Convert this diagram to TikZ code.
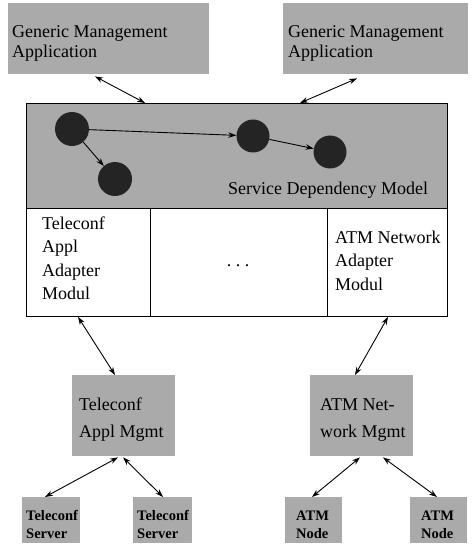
\documentclass[tikz,border=0pt]{standalone}
\usepackage{fontspec}
\setmainfont{Liberation Serif}
\usetikzlibrary{arrows.meta}
\definecolor{boxgray}{RGB}{170,170,170}
\definecolor{dotdark}{RGB}{36,36,36}
\begin{document}
\begin{tikzpicture}[x=1pt,y=-1pt,
  graybox/.style={fill=boxgray, draw=none, inner sep=0pt, anchor=north west},
  lbl/.style={anchor=base west, align=left, inner sep=0pt, font=\fontsize{18}{20}\selectfont},
  smalllbl/.style={anchor=base west, align=left, inner sep=0pt, font=\fontsize{14.5}{18}\selectfont\bfseries},
  link/.style={{Stealth[length=8pt,width=5.5pt]}-{Stealth[length=8pt,width=5.5pt]}, line width=0.9pt},
  deplink/.style={-{Stealth[length=8pt,width=5.5pt]}, line width=0.9pt},
  dot/.style={circle, fill=dotdark, inner sep=0pt}]
\useasboundingbox (0,0) rectangle (475,545);

% top application boxes (text anchors are at the baseline of the last line)
\node[graybox, minimum width=201pt, minimum height=71pt] (gma1) at (8,3) {};
\node[graybox, minimum width=185pt, minimum height=71pt] (gma2) at (283,3) {};
\node[lbl] (gma1t) at (12,58) {Generic Management\\Application};
\node[lbl] (gma2t) at (288,58) {Generic Management\\Application};

% service dependency model
\node[graybox, draw=black, line width=0.9pt, minimum width=421pt, minimum height=105pt] (sdm) at (26,103) {};
\node[anchor=north west, draw=black, fill=white, line width=0.9pt, inner sep=0pt, minimum width=421pt, minimum height=108pt] (adp) at (26,208) {};
\draw[line width=0.9pt] ([xshift=124pt]adp.north west) -- ([xshift=124pt]adp.south west);
\draw[line width=0.9pt] ([xshift=301pt]adp.north west) -- ([xshift=301pt]adp.south west);

\node[dot, minimum size=34pt] (n1) at (72,129) {};
\node[dot, minimum size=34pt] (n2) at (115,179) {};
\node[dot, minimum size=33pt] (n3) at (253,136) {};
\node[dot, minimum size=33pt] (n4) at (330,152) {};
\draw[deplink] (n1) -- (n3);
\draw[deplink] (n1) -- (n2);
\draw[deplink] (n3) -- (n4);
\node[lbl] (sdmt) at (228,195) {Service Dependency Model};

\node[lbl, font=\fontsize{18}{23.5}\selectfont] (tcat) at (42,299.5) {Teleconf\\Appl\\Adapter\\Modul};
\node[anchor=base, inner sep=0pt, font=\fontsize{18}{21}\selectfont] (dots) at (238,266) {.\ .\ .};
\node[lbl, font=\fontsize{18}{23.5}\selectfont] (atmat) at (335,290) {ATM Network\\Adapter\\Modul};

% management boxes
\node[graybox, minimum width=103pt, minimum height=81pt] (tm) at (72,375) {};
\node[graybox, minimum width=103pt, minimum height=81pt] (am) at (310,375) {};
\node[lbl, font=\fontsize{18}{27}\selectfont] (tmt) at (79,437) {Teleconf\\Appl Mgmt};
\node[lbl, font=\fontsize{18}{27}\selectfont] (amt) at (320,437) {ATM Net-\\work Mgmt};

% bottom boxes
\node[graybox, minimum width=58pt, minimum height=46pt] (ts1) at (22,497) {};
\node[graybox, minimum width=59pt, minimum height=46pt] (ts2) at (133,497) {};
\node[graybox, minimum width=57pt, minimum height=46pt] (an1) at (285,497) {};
\node[graybox, minimum width=57pt, minimum height=46pt] (an2) at (410,497) {};
\node[smalllbl] (ts1t) at (26,538) {Teleconf\\Server};
\node[smalllbl] (ts2t) at (137,538) {Teleconf\\Server};
\node[smalllbl] (an1t) at (296,538) {ATM\\Node};
\node[smalllbl] (an2t) at (421,538) {ATM\\Node};

% connectors
\draw[link] ([xshift=87pt,yshift=-2pt]gma1.south west) -- ([xshift=119pt]sdm.north west);
\draw[link] ([xshift=74pt,yshift=-4pt]gma2.south west) -- ([xshift=274pt]sdm.north west);
\draw[link] ([xshift=52pt]adp.south west) -- ([xshift=43pt]tm.north west);
\draw[link] ([xshift=362pt]adp.south west) -- ([xshift=45pt]am.north west);
\draw[link] ([xshift=46pt,yshift=-1pt]tm.south west) -- ([xshift=23pt]ts1.north west);
\draw[link] ([xshift=51pt,yshift=-1pt]tm.south west) -- ([xshift=30pt]ts2.north west);
\draw[link] ([xshift=50pt,yshift=-1pt]am.south west) -- ([xshift=27pt]an1.north west);
\draw[link] ([xshift=73pt,yshift=-1pt]am.south west) -- ([xshift=27pt]an2.north west);
\end{tikzpicture}
\end{document}
